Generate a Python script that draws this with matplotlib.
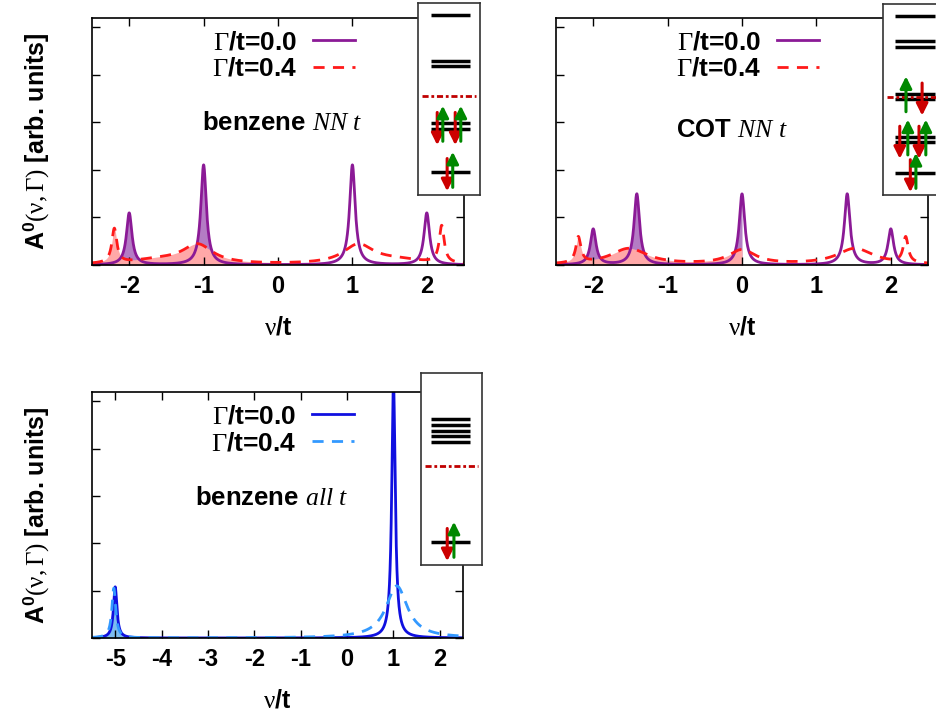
import numpy as np
import matplotlib
matplotlib.use('Agg')
import matplotlib.pyplot as plt

plt.rcParams['font.family'] = ['Liberation Sans', 'DejaVu Sans']
plt.rcParams['font.weight'] = 'bold'
plt.rcParams['axes.labelweight'] = 'bold'
plt.rcParams['mathtext.fontset'] = 'custom'
plt.rcParams['mathtext.rm'] = 'Liberation Serif:weight=normal'
plt.rcParams['mathtext.it'] = 'Liberation Serif:style=italic:weight=normal'
plt.rcParams['mathtext.bf'] = 'Liberation Sans:weight=bold'
plt.rcParams['axes.unicode_minus'] = False

# peaks: centre, height, half width (units of t)
benz_nn_pos = [-2.0, -1.0, 1.0, 2.0]
benz_nn_h = [1.09, 2.1, 2.1, 1.09]
benz_nn_w = [0.045, 0.045, 0.045, 0.045]
benz_nn_g_pos = [-2.2, -1.08, -1.6, 1.08, 1.6, 2.2]
benz_nn_g_h = [0.72, 0.40, 0.09, 0.40, 0.09, 0.78]
benz_nn_g_w = [0.04, 0.25, 0.45, 0.25, 0.45, 0.04]

cot_pos = [-2.0, -1.414, 0.0, 1.414, 2.0]
cot_h = [0.75, 1.49, 1.49, 1.49, 0.75]
cot_w = [0.045, 0.045, 0.045, 0.045, 0.045]
cot_g_pos = [-2.2, -1.52, 0.0, 1.52, 2.2]
cot_g_h = [0.54, 0.34, 0.30, 0.34, 0.54]
cot_g_w = [0.04, 0.3, 0.22, 0.3, 0.04]

benz_all_pos = [-5.0, 1.0]
benz_all_h = [1.08, 5.4]
benz_all_w = [0.045, 0.045]
benz_all_g_pos = [-5.03, 1.07]
benz_all_g_h = [1.05, 1.1]
benz_all_g_w = [0.05, 0.28]

# level schemes in the insets (fraction of box height)
benz_levels = [0.12, 0.344, 0.375, 0.672, 0.698, 0.9375]
benz_mu = 0.516
benz_dn = [(0.47, 0.12), (0.31, 0.36), (0.60, 0.36)]
benz_up = [(0.56, 0.12), (0.40, 0.36), (0.69, 0.36)]

cot_levels = [0.115, 0.277, 0.304, 0.503, 0.529, 0.775, 0.806, 0.937]
cot_mu = 0.513
cot_dn = [(0.44, 0.115), (0.27, 0.29), (0.58, 0.29), (0.63, 0.516)]
cot_up = [(0.53, 0.115), (0.40, 0.29), (0.69, 0.29), (0.37, 0.516)]

all_levels = [0.12, 0.641, 0.672, 0.698, 0.729, 0.76]
all_mu = 0.516
all_dn = [(0.43, 0.12)]
all_up = [(0.54, 0.12)]

labels = [r'$\Gamma$/t=0.0', r'$\Gamma$/t=0.4']


def spectrum(nu, pos, h, w):
    out = np.zeros_like(nu)
    for p, a, g in zip(pos, h, w):
        out += a * g**2 / ((nu - p)**2 + g**2)
    return out


def panel(ax, nu, y0, y1, c0, c1, f0, f1, text, xlim, xticks, tx, ty):
    occ = nu <= 0
    ax.fill_between(nu, y0, where=occ, color=f0, lw=0)
    ax.fill_between(nu, y1, where=occ, color=f1, lw=0)
    ax.plot(nu, y0, color=c0, lw=2, label=labels[0])
    ax.plot(nu, y1, color=c1, lw=2, dashes=(4, 3), label=labels[1])
    ax.set_xlim(*xlim)
    ax.set_ylim(0, 5.19)
    ax.set_xticks(xticks)
    ax.set_yticks([0, 1, 2, 3, 4, 5])
    ax.tick_params(direction='in', length=6, width=1, top=True, right=True,
                   labelsize=17, pad=7, labelleft=False)
    for s in ax.spines.values():
        s.set_linewidth(1.2)
    ax.set_xlabel(r'$\mathrm{\nu}$/t', fontsize=18, labelpad=13)
    ax.set_ylabel(r'A$^{\mathbf{0}}(\mathrm{\nu},\Gamma)$ [arb. units]', fontsize=18)
    ax.yaxis.set_label_coords(-0.11, 0.5)
    ax.legend(loc='upper right', bbox_to_anchor=(0.707, 0.95), frameon=False,
              markerfirst=False, fontsize=19, handlelength=1.6,
              handletextpad=0.6, labelspacing=0.1, borderpad=0, borderaxespad=0)
    ax.text(tx, ty, text, transform=ax.transAxes, ha='center', va='center',
            fontsize=18.5)


def inset(rect, levels, mu, dn, up, lx):
    ax = fig.add_axes(rect)
    ax.set_xlim(0, 1)
    ax.set_ylim(0, 1)
    ax.set_xticks([])
    ax.set_yticks([])
    for s in ax.spines.values():
        s.set_linewidth(1.2)
        s.set_edgecolor('#333333')
    for y in levels:
        ax.plot(lx, [y, y], color='black', lw=2.5, solid_capstyle='butt')
    ax.plot([0.06, 0.94], [mu, mu], color='#c00000', lw=2,
            dashes=(2.2, 1.0, 1.0, 1.0))
    for x, y in dn:
        ax.annotate('', xy=(x, y - 0.10), xytext=(x, y + 0.07),
                    arrowprops=dict(arrowstyle='-|>,head_width=0.35,head_length=0.7',
                                    color='#cc0000', lw=2.2, shrinkA=0, shrinkB=0,
                                    mutation_scale=10))
    for x, y in up:
        ax.annotate('', xy=(x, y + 0.105), xytext=(x, y - 0.08),
                    arrowprops=dict(arrowstyle='-|>,head_width=0.35,head_length=0.7',
                                    color='#008800', lw=2.2, shrinkA=0, shrinkB=0,
                                    mutation_scale=10))


nu_nn = np.linspace(-2.5, 2.5, 2001)
nu_all = np.linspace(-5.5, 2.5, 3201)

fig = plt.figure(figsize=(9.37, 7.21), dpi=100)

ax1 = fig.add_axes([0.0982, 0.6325, 0.397, 0.3426])
panel(ax1, nu_nn, spectrum(nu_nn, benz_nn_pos, benz_nn_h, benz_nn_w),
      spectrum(nu_nn, benz_nn_g_pos, benz_nn_g_h, benz_nn_g_w),
      '#8b1a96', '#ff1a1a', '#b47cc4', '#ffa8a8',
      r'benzene $\mathit{NN\ t}$', (-2.5, 2.5), [-2, -1, 0, 1, 2], 0.51, 0.575)

ax2 = fig.add_axes([0.5934, 0.6325, 0.397, 0.3426])
panel(ax2, nu_nn, spectrum(nu_nn, cot_pos, cot_h, cot_w),
      spectrum(nu_nn, cot_g_pos, cot_g_h, cot_g_w),
      '#8b1a96', '#ff1a1a', '#b47cc4', '#ffa8a8',
      r'COT $\mathit{NN\ t}$', (-2.5, 2.5), [-2, -1, 0, 1, 2], 0.473, 0.547)
ax2.set_ylabel('')

ax3 = fig.add_axes([0.0982, 0.1151, 0.396, 0.341])
panel(ax3, nu_all, spectrum(nu_all, benz_all_pos, benz_all_h, benz_all_w),
      spectrum(nu_all, benz_all_g_pos, benz_all_g_h, benz_all_g_w),
      '#1010e0', '#3399ff', '#7cbcf0', '#7cbcf0',
      r'benzene $\mathit{all\ t}$', (-5.5, 2.5), [-5, -4, -3, -2, -1, 0, 1, 2],
      0.485, 0.569)

inset([0.4461, 0.7295, 0.0662, 0.2663], benz_levels, benz_mu, benz_dn, benz_up,
      [0.21, 0.84])
inset([0.9424, 0.7295, 0.0662, 0.2650], cot_levels, cot_mu, cot_dn, cot_up,
      [0.19, 0.84])
inset([0.4493, 0.2164, 0.0651, 0.2663], all_levels, all_mu, all_dn, all_up,
      [0.16, 0.80])

fig.savefig('out.png', dpi=100)
